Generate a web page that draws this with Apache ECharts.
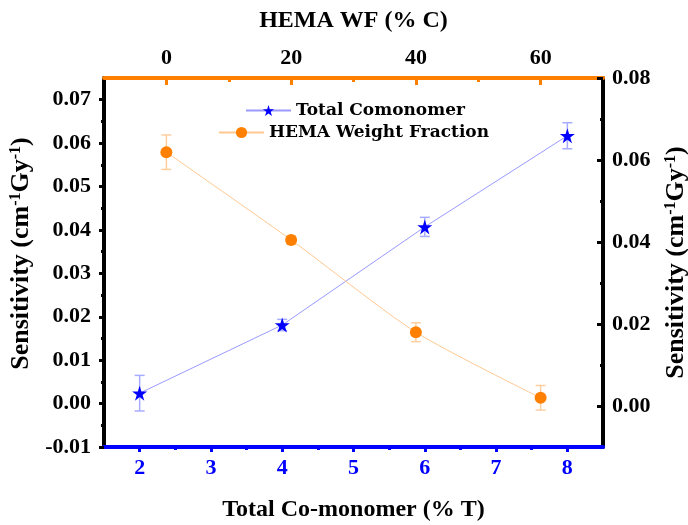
<!DOCTYPE html>
<html>
<head>
<meta charset="utf-8">
<script src="https://cdn.jsdelivr.net/npm/echarts@6/dist/echarts.min.js"></script>
<style>
html,body{margin:0;padding:0;background:#fff;}
#chart{width:688px;height:525px;}
</style>
</head>
<body>
<div id="chart"></div>
<script>
// ---- data ----
const totalT = [2, 4, 6, 8];
const totalSens = [0.0024, 0.0181, 0.0407, 0.0617];
const totalErr = [0.0041, 0.0013, 0.0022, 0.0030];

const hemaWF = [0, 20, 40, 60];
const hemaSens = [0.0619, 0.0405, 0.0180, 0.0020];
const hemaErr = [0.0042, 0.0010, 0.0023, 0.0030];

const bottomTicks = [2, 3, 4, 5, 6, 7, 8];
const bottomMinor = [2.5, 3.5, 4.5, 5.5, 6.5, 7.5];
const topTicks = [0, 20, 40, 60];
const topMinor = [10, 30, 50];
const leftTicks = [-0.01, 0, 0.01, 0.02, 0.03, 0.04, 0.05, 0.06, 0.07];
const leftMinor = [-0.005, 0.005, 0.015, 0.025, 0.035, 0.045, 0.055, 0.065];
const rightTicks = [0, 0.02, 0.04, 0.06, 0.08];
const rightMinor = [0.01, 0.03, 0.05, 0.07];

const FONT = 'Liberation Serif';
const BLUE = '#0000ff';
const ORANGE = '#ff8000';
const STAR = 'path://M50,0 L61.8,35.5 L99,35.5 L69,57.5 L80.5,93 L50,71 L19.5,93 L31,57.5 L1,35.5 L38.2,35.5 Z';

const chart = echarts.init(document.getElementById('chart'), null, {renderer: 'canvas'});

function errBar(color) {
  return function (params, api) {
    const x = api.value(0), y = api.value(1), e = api.value(2);
    const hi = api.coord([x, y + e]);
    const lo = api.coord([x, y - e]);
    const w = 5;
    const st = {stroke: color, lineWidth: 1.5};
    return {
      type: 'group',
      children: [
        {type: 'line', shape: {x1: hi[0], y1: hi[1], x2: lo[0], y2: lo[1]}, style: st},
        {type: 'line', shape: {x1: hi[0] - w, y1: hi[1], x2: hi[0] + w, y2: hi[1]}, style: st},
        {type: 'line', shape: {x1: lo[0] - w, y1: lo[1], x2: lo[0] + w, y2: lo[1]}, style: st}
      ]
    };
  };
}

const nameFont = {fontFamily: FONT, fontWeight: 'bold', fontSize: 24, color: '#000'};
const yNameFont = {fontFamily: FONT, fontWeight: 'bold', fontSize: 26, color: '#000'};
const supRich = {
  sup: {fontFamily: FONT, fontWeight: 'bold', fontSize: 16, verticalAlign: 'top', color: '#000', padding: [0, 0, 10, 0]},
};
const sensName = 'Sensitivity (cm{sup|-1}Gy{sup|-1})';

const option = {
  animation: false,
  backgroundColor: '#fff',
  grid: {left: 104, right: 85, top: 78, bottom: 78, containLabel: false, outerBoundsMode: 'none'},
  legend: [
    {
      data: ['Total Comonomer'], left: 245, top: 102, padding: 0,
      itemWidth: 45, itemHeight: 14, itemGap: 5,
      textStyle: {fontFamily: 'DejaVu Serif', fontWeight: 'bold', fontSize: 17, color: '#000'}
    },
    {
      data: ['HEMA Weight Fraction'], left: 218, top: 124, padding: 0,
      itemWidth: 45, itemHeight: 14, itemGap: 5,
      textStyle: {fontFamily: 'DejaVu Serif', fontWeight: 'bold', fontSize: 17, color: '#000'}
    }
  ],
  xAxis: [
    {
      type: 'value', position: 'bottom', min: 1.5, max: 8.5,
      name: 'Total Co-monomer (% T)', nameLocation: 'middle', nameGap: 51,
      nameTextStyle: nameFont,
      axisLine: {show: true, onZero: false, lineStyle: {color: BLUE, width: 4}},
      axisTick: {show: true, inside: false, length: 5, customValues: bottomTicks, lineStyle: {color: BLUE, width: 3}},
      axisLabel: {customValues: bottomTicks, margin: 10, fontFamily: FONT, fontWeight: 'bold', fontSize: 22, color: BLUE},
      splitLine: {show: false}
    },
    {
      type: 'value', position: 'bottom', min: 1.5, max: 8.5,
      axisLine: {show: false, onZero: false},
      axisTick: {show: true, inside: false, length: 3, customValues: bottomMinor, lineStyle: {color: BLUE, width: 3}},
      axisLabel: {show: false},
      splitLine: {show: false}
    },
    {
      type: 'value', position: 'top', min: -10, max: 70,
      name: 'HEMA WF (% C)', nameLocation: 'middle', nameGap: 45,
      nameTextStyle: nameFont,
      axisLine: {show: true, onZero: false, lineStyle: {color: ORANGE, width: 4}},
      axisTick: {show: true, inside: true, length: 7, customValues: topTicks, lineStyle: {color: ORANGE, width: 3}},
      axisLabel: {customValues: topTicks, margin: 9, fontFamily: FONT, fontWeight: 'bold', fontSize: 22, color: '#000'},
      splitLine: {show: false}
    },
    {
      type: 'value', position: 'top', min: -10, max: 70,
      axisLine: {show: false, onZero: false},
      axisTick: {show: true, inside: true, length: 4, customValues: topMinor, lineStyle: {color: ORANGE, width: 3}},
      axisLabel: {show: false},
      splitLine: {show: false}
    }
  ],
  yAxis: [
    {
      type: 'value', position: 'left', min: -0.01, max: 0.075,
      name: sensName, nameLocation: 'middle', nameGap: 68, nameRotate: 90,
      nameTextStyle: Object.assign({}, yNameFont, {rich: supRich, padding: [0, 0, 0, 18]}),
      axisLine: {show: true, onZero: false, lineStyle: {color: '#000', width: 4}},
      axisTick: {show: true, inside: false, length: 5, customValues: leftTicks, lineStyle: {color: '#000', width: 3}},
      axisLabel: {customValues: leftTicks, margin: 13, formatter: v => v.toFixed(2),
        fontFamily: FONT, fontWeight: 'bold', fontSize: 22, color: '#000'},
      splitLine: {show: false}
    },
    {
      type: 'value', position: 'left', min: -0.01, max: 0.075,
      axisLine: {show: false, onZero: false},
      axisTick: {show: true, inside: false, length: 3, customValues: leftMinor, lineStyle: {color: '#000', width: 3}},
      axisLabel: {show: false},
      splitLine: {show: false}
    },
    {
      type: 'value', position: 'right', min: -0.01, max: 0.08,
      name: sensName, nameLocation: 'middle', nameGap: 60, nameRotate: 90,
      nameTextStyle: Object.assign({}, yNameFont, {rich: supRich}),
      axisLine: {show: true, onZero: false, lineStyle: {color: '#000', width: 4}},
      axisTick: {show: true, inside: true, length: 6, customValues: rightTicks, lineStyle: {color: '#000', width: 3}},
      axisLabel: {customValues: rightTicks, margin: 9, formatter: v => v.toFixed(2),
        fontFamily: FONT, fontWeight: 'bold', fontSize: 22, color: '#000'},
      splitLine: {show: false}
    },
    {
      type: 'value', position: 'right', min: -0.01, max: 0.08,
      axisLine: {show: false, onZero: false},
      axisTick: {show: true, inside: true, length: 3, customValues: rightMinor, lineStyle: {color: '#000', width: 3}},
      axisLabel: {show: false},
      splitLine: {show: false}
    }
  ],
  series: [
    {
      type: 'custom', name: 'totalErr', xAxisIndex: 0, yAxisIndex: 0, z: 1,
      renderItem: errBar('#a8acff'),
      encode: {x: 0, y: 1},
      data: totalT.map((x, i) => [x, totalSens[i], totalErr[i]]),
      silent: true
    },
    {
      type: 'custom', name: 'hemaErr', xAxisIndex: 2, yAxisIndex: 2, z: 1,
      renderItem: errBar('#ffcf9f'),
      encode: {x: 0, y: 1},
      data: hemaWF.map((x, i) => [x, hemaSens[i], hemaErr[i]]),
      silent: true
    },
    {
      type: 'line', name: 'Total Comonomer', xAxisIndex: 0, yAxisIndex: 0, z: 3,
      data: totalT.map((x, i) => [x, totalSens[i]]),
      symbol: STAR, symbolSize: 15,
      itemStyle: {color: BLUE},
      lineStyle: {color: '#9a9aff', width: 1}
    },
    {
      type: 'line', name: 'HEMA Weight Fraction', xAxisIndex: 2, yAxisIndex: 2, z: 3,
      data: hemaWF.map((x, i) => [x, hemaSens[i]]),
      symbol: 'circle', symbolSize: 12, smooth: 0.25,
      itemStyle: {color: ORANGE},
      lineStyle: {color: '#ffc890', width: 1}
    }
  ]
};
chart.setOption(option);
</script>
</body>
</html>
